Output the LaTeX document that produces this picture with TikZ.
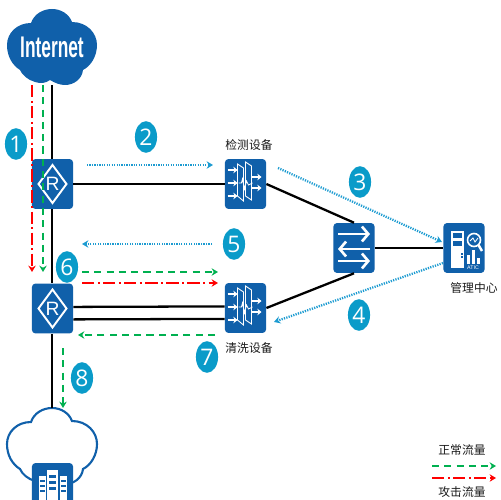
\documentclass[tikz,border=0pt]{standalone}
\usepackage{fontspec}
\setmainfont{Liberation Sans}
\newfontfamily\cjk{Noto Sans CJK SC}
\newfontfamily\numfont{Open Sans}
\usepackage{tikz,xcolor}
\usetikzlibrary{arrows.meta,shapes.geometric}
\definecolor{devblue}{HTML}{1060AA}
\definecolor{numblue}{HTML}{0A9BC9}
\definecolor{flowblue}{HTML}{1C9BD1}
\definecolor{flowgreen}{HTML}{00B050}
\tikzset{
  % blue square of a device
  devbox/.style={fill=devblue, rounded corners=2pt, minimum width=23.4pt, minimum height=28.4pt, inner sep=0pt, text=white},
  numdot/.style={ellipse, fill=numblue, text=white, minimum width=12.6pt, minimum height=18pt, inner sep=0pt, font=\numfont\fontsize{13}{13}\selectfont},
  cjklabel/.style={inner sep=0pt, text=black!90, font=\cjk\fontsize{6.7}{8}\selectfont},
  link/.style={black, line width=1.3pt},
  % the three kinds of traffic
  tipsmall/.style={-{Stealth[length=3.6pt,width=4.2pt]}},
  probeflow/.style={tipsmall, flowblue, line width=1.3pt, dash pattern=on .7pt off .7pt},
  goodflow/.style={tipsmall, flowgreen, line width=1.3pt, dash pattern=on 4pt off 3pt},
  badflow/.style={tipsmall, red, line width=1.4pt, dash pattern=on 7pt off 2pt on 1pt off 2pt},
  iconline/.style={white, line width=.5pt},
  iconarrow/.style={white, line width=1.1pt, -{Stealth[length=2.4pt,width=3.8pt]}},
  cloudpic/.pic={
    \path[pic actions] (-21,-24) .. controls (-18,-33) and (-9,-38) .. (0,-38)
      .. controls (9,-38) and (17,-33) .. (20,-25)
      .. controls (35,-25) and (45,-14) .. (45,-2)
      .. controls (45,9) and (39,19) .. (31,23)
      .. controls (30,32) and (22,38) .. (13,38)
      .. controls (8,38) and (3,36) .. (-2,33)
      .. controls (-6,36) and (-11,37) .. (-17,35)
      .. controls (-24,33) and (-30,28) .. (-32,23)
      .. controls (-40,18) and (-45,9) .. (-45,-2)
      .. controls (-45,-14) and (-35,-24) .. (-21,-24) -- cycle;
  },
  routerpic/.pic={
    \draw[white, line width=1.1pt] (-14,0) -- (0,-19) -- (14,0) -- (0,19) -- cycle;
  },
  filterpic/.pic={
    \draw[iconline] (-8,-20) -- (-2,-16) -- (-2,17) -- (-8,12) -- cycle;
    \draw[iconline] (0,-22) -- (6,-18) -- (6,16) -- (0,12) -- cycle;
    \foreach \y in {-14,-1,12} { \draw[iconarrow] (-18,\y) -- (-8,\y); }
    \foreach \y in {-7,4} { \draw[iconarrow] (6,\y) -- (16,\y); }
    \draw[iconline] (-7,-1) -- (-4,-1) -- (-3,-5) -- (-1,5) -- (1,-3) -- (3,1) -- (7,-1);
  },
  switchpic/.pic={
    \draw[white, line width=1.5pt, -{Straight Barb[length=3.6pt,width=8.5pt]}] (-16,-14) -- (16,-14);
    \draw[white, line width=1.5pt, -{Straight Barb[length=3.6pt,width=8.5pt]}] (16,1) -- (-16,1);
    \draw[white, line width=1.5pt, -{Straight Barb[length=3.6pt,width=8.5pt]}] (-16,13) -- (16,13);
  },
  atcpic/.pic={
    \fill[white] (-13,-17) rectangle (0,20);
    \foreach \y in {-15,-7} { \fill[devblue] (-11,\y) rectangle (-2,\y+5); }
    \foreach \y in {5,8} { \fill[devblue] (-3,\y) rectangle (-1,\y+2); }
    \draw[white, line width=.9pt] (10,-8) circle (6.5);
    \draw[white, line width=1.4pt] (14.5,-3) -- (18,3);
    \draw[white, line width=.5pt] (6,-7) -- (9,-10) -- (11,-6) -- (14,-10);
    \foreach \x/\y in {4/7,9/2,14/10} { \fill[white] (\x-1.5,\y) rectangle (\x+1.5,16); }
    \node[white, inner sep=0pt, font=\fontsize{3}{3}\selectfont] (atic) at (9,20) {ATIC};
  },
  serverpic/.pic={
    \fill[white] (-6,-18) rectangle (5,20);
    \foreach \x in {-14,7} { \fill[white] (\x,-12) rectangle (\x+7,20); }
    \foreach \y in {-13,-7,-1} { \fill[devblue] (-4,\y) rectangle (3,\y+3); }
    \foreach \x in {-13,8} { \foreach \y in {-8,-3,2} { \fill[devblue] (\x,\y) rectangle (\x+5,\y+2); } }
  },
}
\begin{document}
\begin{tikzpicture}[x=0.02cm, y=-0.02cm]
  \clip (0,0) rectangle (500,500);
  % Draw the clouds
  \pic[fill=devblue] at (52,47) {cloudpic};
  \pic[fill=white, draw=devblue, line width=1.2pt] at (52,446) {cloudpic};
  \node[white, inner sep=0pt, xscale=.58, transform shape, font=\bfseries\fontsize{17}{17}\selectfont] (internet) at (52,47) {Internet};
  % Draw the devices
  \node[devbox, font=\fontsize{11}{11}\selectfont] (router1) at (52.5,184) {R};
  \node[devbox, font=\fontsize{11}{11}\selectfont] (router2) at (52.5,308.5) {R};
  \node[devbox] (detect) at (245.5,184) {};
  \node[devbox] (clean) at (245.5,308) {};
  \node[devbox] (switch) at (354,248) {};
  \node[devbox] (atc) at (464,248) {};
  \node[devbox] (server) at (52.5,488) {};
  \pic at (router1.center) {routerpic};
  \pic at (router2.center) {routerpic};
  \pic at (detect.center) {filterpic};
  \pic at (clean.center) {filterpic};
  \pic at (switch.center) {switchpic};
  \pic at (atc.center) {atcpic};
  \pic at (server.center) {serverpic};
  % Draw the links
  \coordinate (inetfoot) at (52,85);
  \coordinate (lantop) at (52,408);
  \draw[link] (inetfoot) -- (router1.north -| inetfoot);
  \draw[link] (router1.south -| inetfoot) -- (router2.north -| inetfoot);
  \draw[link] (router2.south -| inetfoot) -- (lantop);
  \draw[link] (router1.east) -- (detect.west);
  \draw[link] ([yshift=.9pt]router2.east) -- ([yshift=.9pt]clean.west);
  \draw[link] ([yshift=-6.2pt]router2.east) -- ([yshift=-6.2pt]clean.west);
  \draw[link] (detect.east) -- (switch.north);
  \draw[link] (clean.east) -- (switch.south);
  \draw[link] (switch.east) -- (atc.west);
  % Draw the traffic arrows
  \foreach \name/\x/\y in {a/32/85, b/32/272, c/43/85, d/43/272, e/87/165, f/213/165, g/278/168, h/442/242,
      i/443/263, j/274/322, k/212/244, l/82/244, m/82/272, n/218/272, o/82/283, p/218/283,
      q/215/335, r/78/335, s/63/348, t/63/408, u/432/466, v/496/466, w/432/478, z/496/478} {
    \coordinate (\name) at (\x,\y);
  }
  \draw[badflow] (a) -- (b);
  \draw[goodflow] (c) -- (d);
  \draw[probeflow] (e) -- (f);
  \draw[probeflow] (g) -- (h);
  \draw[probeflow] (i) -- (j);
  \draw[probeflow] (k) -- (l);
  \draw[goodflow] (m) -- (n);
  \draw[badflow] (o) -- (p);
  \draw[goodflow] (q) -- (r);
  \draw[goodflow] (s) -- (t);
  \draw[goodflow] (u) -- (v);
  \draw[badflow] (w) -- (z);
  % Draw the numbers
  \foreach \n/\x/\y in {1/16/144, 2/146/137, 3/360/182, 4/359/315, 5/234/244, 6/67/267, 7/207/357, 8/82/378} {
    \node[numdot] (num\n) at (\x,\y) {\n};
  }
  % Draw the labels
  \node[cjklabel] (detectlabel) at (249,145) {检测设备};
  \node[cjklabel] (cleanlabel) at (249,348) {清洗设备};
  \node[cjklabel] (atclabel) at (474,288) {管理中心};
  \node[cjklabel] (goodlabel) at (462,450) {正常流量};
  \node[cjklabel] (badlabel) at (462,492) {攻击流量};
\end{tikzpicture}
\end{document}
